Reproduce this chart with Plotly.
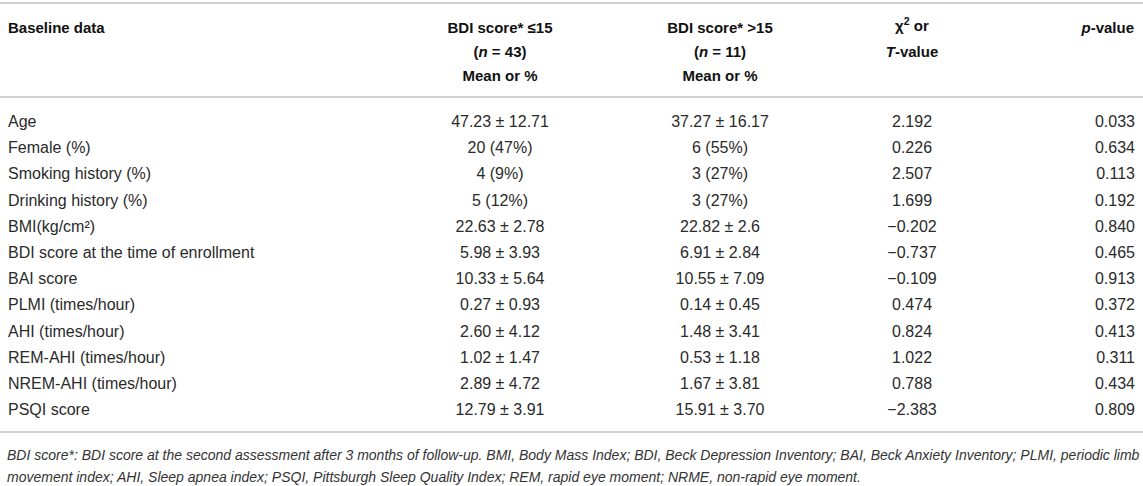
import plotly.graph_objects as go

W, H = 1143, 486

# ---- data ----
header_line1 = ["<b>Baseline data</b>", "<b>BDI score* ≤15</b>", "<b>BDI score* >15</b>",
                "<b>χ<sup>2</sup> or</b>", "<b><i>p</i>-value</b>"]
header_line2 = ["", "<b>(<i>n</i> = 43)</b>", "<b>(<i>n</i> = 11)</b>", "<b><i>T</i>-value</b>", ""]
header_line3 = ["", "<b>Mean or %</b>", "<b>Mean or %</b>", "", ""]

labels = [
    "Age", "Female (%)", "Smoking history (%)", "Drinking history (%)",
    "BMI(kg/cm²)", "BDI score at the time of enrollment", "BAI score",
    "PLMI (times/hour)", "AHI (times/hour)", "REM-AHI (times/hour)",
    "NREM-AHI (times/hour)", "PSQI score",
]
low_bdi = [
    "47.23 ± 12.71", "20 (47%)", "4 (9%)", "5 (12%)", "22.63 ± 2.78", "5.98 ± 3.93",
    "10.33 ± 5.64", "0.27 ± 0.93", "2.60 ± 4.12", "1.02 ± 1.47", "2.89 ± 4.72", "12.79 ± 3.91",
]
high_bdi = [
    "37.27 ± 16.17", "6 (55%)", "3 (27%)", "3 (27%)", "22.82 ± 2.6", "6.91 ± 2.84",
    "10.55 ± 7.09", "0.14 ± 0.45", "1.48 ± 3.41", "0.53 ± 1.18", "1.67 ± 3.81", "15.91 ± 3.70",
]
stat_values = [
    "2.192", "0.226", "2.507", "1.699", "−0.202", "−0.737",
    "−0.109", "0.474", "0.824", "1.022", "0.788", "−2.383",
]
p_values = [
    "0.033", "0.634", "0.113", "0.192", "0.840", "0.465",
    "0.913", "0.372", "0.413", "0.311", "0.434", "0.809",
]

footnote_1 = ("BDI score*: BDI score at the second assessment after 3 months of follow-up. BMI, Body Mass Index; "
              "BDI, Beck Depression Inventory; BAI, Beck Anxiety Inventory; PLMI, periodic limb")
footnote_2 = ("movement index; AHI, Sleep apnea index; PSQI, Pittsburgh Sleep Quality Index; REM, rapid eye moment; "
              "NRME, non-rapid eye moment.")

# ---- layout constants ----
FONT = "Liberation Sans, Arial, sans-serif"
colwidths = [390, 220, 220, 164, 149]
aligns = ["left", "center", "center", "center", "right"]
CLEAR = "rgba(0,0,0,0)"


def py(px):
    return 1 - px / H


def add_header_table(values, top):
    fig.add_trace(go.Table(
        domain=dict(x=[0, 1], y=[py(top + 38), py(top)]),
        columnwidth=colwidths,
        header=dict(values=[""] * 5, height=0, line=dict(width=0, color=CLEAR),
                    fill=dict(color=CLEAR)),
        cells=dict(values=[[v] for v in values], align=aligns, height=24,
                   font=dict(family=FONT, size=15, color="#111"),
                   line=dict(width=0, color=CLEAR), fill=dict(color=CLEAR)),
    ))


fig = go.Figure()

# header block: one single-row table per text line; cells holding a
# superscript get their own table, nudged up to keep a common baseline
has_sup = ["<sup>" in v for v in header_line1]
add_header_table([("" if s else v) for v, s in zip(header_line1, has_sup)], 11)
add_header_table([(v if s else "") for v, s in zip(header_line1, has_sup)], 7)
add_header_table(header_line2, 35)
add_header_table(header_line3, 59)

# body block
fig.add_trace(go.Table(
    domain=dict(x=[0, 1], y=[py(430), py(107)]),
    columnwidth=colwidths,
    header=dict(values=[""] * 5, height=0, line=dict(width=0, color=CLEAR),
                fill=dict(color=CLEAR)),
    cells=dict(values=[labels, low_bdi, high_bdi, stat_values, p_values],
               align=aligns, height=26.2,
               font=dict(family=FONT, size=16, color="#2a2a2a"),
               line=dict(width=0, color=CLEAR), fill=dict(color=CLEAR)),
))

rule = dict(type="line", xref="paper", yref="paper", x0=0, x1=1,
            line=dict(color="#c2c2c2", width=1.6))
for ypx in (3, 97, 432):
    fig.add_shape(**rule, y0=py(ypx), y1=py(ypx))

for txt, ypx in ((footnote_1, 455), (footnote_2, 477)):
    fig.add_annotation(text="<i>" + txt + "</i>", xref="paper", yref="paper",
                       x=5 / W, y=py(ypx), xanchor="left", yanchor="middle",
                       showarrow=False,
                       font=dict(family=FONT, size=14, color="#333"))

fig.update_layout(width=W, height=H, margin=dict(l=0, r=0, t=0, b=0),
                  paper_bgcolor="white", plot_bgcolor="white")

fig.write_html("out.html", config={"displayModeBar": False},
               post_script="document.body.style.margin='0';document.body.style.overflow='hidden';")
